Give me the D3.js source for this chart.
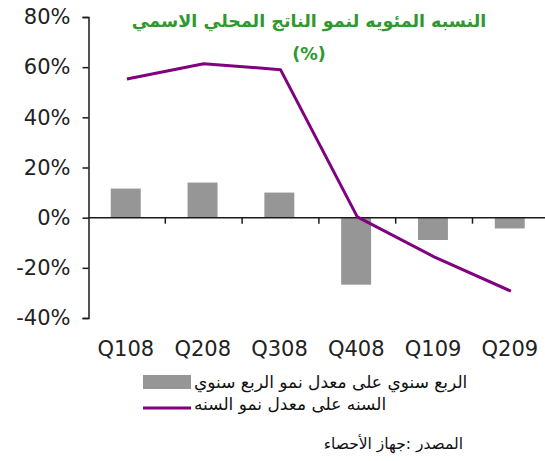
<!DOCTYPE html>
<html>
<head>
<meta charset="utf-8">
<script src="https://cdn.jsdelivr.net/npm/d3@7"></script>
<style>
  body { margin: 0; background: #fff; }
  svg { display: block; }
</style>
</head>
<body>
<svg id="chart"></svg>
<script>
// data
const quarters = ['Q108', 'Q208', 'Q308', 'Q408', 'Q109', 'Q209'];
const qoqGrowth = [11.6, 14.0, 10.0, -26.7, -8.9, -4.3];   // bars
const yoyGrowth = [55.3, 61.4, 59.0, 0.3, -15.6, -29.3];   // line
const yTicks = [-40, -20, 0, 20, 40, 60, 80];

const titleLines = ['النسبه المئويه لنمو الناتج المحلي الاسمي', '(%)'];
const legendLabels = ['الربع سنوي على معدل نمو الربع سنوي', 'السنه على معدل نمو السنه'];
const sourceText = 'المصدر :جهاز الأحصاء';

const width = 545, height = 461;
const svg = d3.select('#chart').attr('width', width).attr('height', height);

const axisLeftX = 88.5;
const step = 76.8;
const x = d3.scaleBand().domain(quarters).range([axisLeftX, axisLeftX + step * quarters.length]).padding(0);
const y = d3.scaleLinear().domain([-40, 80]).range([318, 17]);

const barColor = '#969696';
const lineColor = '#800080';
const axisColor = '#1a1a1a';

// bars
svg.append('g')
  .selectAll('rect')
  .data(quarters.map((q, i) => ({ q, v: qoqGrowth[i] })))
  .join('rect')
  .attr('x', d => x(d.q) + step * 0.29)
  .attr('width', step * 0.39)
  .attr('y', d => y(Math.max(0, d.v)))
  .attr('height', d => Math.abs(y(d.v) - y(0)))
  .attr('fill', barColor);

// y axis
const yAxis = d3.axisLeft(y)
  .tickValues(yTicks)
  .tickSize(6)
  .tickPadding(12)
  .tickFormat(d => d + '%');
const yG = svg.append('g').attr('transform', `translate(${axisLeftX},0)`).call(yAxis);
yG.selectAll('path, line').attr('stroke', axisColor).attr('stroke-width', 1.5);
yG.selectAll('text')
  .attr('font-family', 'DejaVu Sans, Verdana, sans-serif')
  .attr('font-size', 21)
  .attr('fill', '#222');

// x axis at 0%
svg.append('line')
  .attr('x1', axisLeftX).attr('x2', width)
  .attr('y1', y(0)).attr('y2', y(0))
  .attr('stroke', axisColor).attr('stroke-width', 1.5);
svg.append('g')
  .selectAll('line')
  .data(quarters.slice(1))
  .join('line')
  .attr('x1', d => x(d)).attr('x2', d => x(d))
  .attr('y1', y(0)).attr('y2', y(0) + 6)
  .attr('stroke', axisColor).attr('stroke-width', 1.5);

svg.append('g')
  .selectAll('text')
  .data(quarters)
  .join('text')
  .attr('x', d => x(d) + x.bandwidth() / 2 - 1)
  .attr('y', 356)
  .attr('text-anchor', 'middle')
  .attr('font-family', 'DejaVu Sans, Verdana, sans-serif')
  .attr('font-size', 21)
  .attr('fill', '#222')
  .text(d => d);

// line
const line = d3.line()
  .x((d, i) => x(quarters[i]) + x.bandwidth() / 2)
  .y(d => y(d));
svg.append('path')
  .datum(yoyGrowth)
  .attr('d', line)
  .attr('fill', 'none')
  .attr('stroke', lineColor)
  .attr('stroke-width', 3)
  .attr('stroke-linejoin', 'round');

// title
svg.append('g')
  .selectAll('text')
  .data(titleLines)
  .join('text')
  .attr('x', 309)
  .attr('y', (d, i) => 27 + i * 33)
  .attr('text-anchor', 'middle')
  .attr('font-family', 'DejaVu Sans, sans-serif')
  .attr('font-weight', 'bold')
  .attr('font-size', 17.5)
  .attr('fill', '#2e9a2e')
  .text(d => d);

// legend
const legend = svg.append('g');
legend.append('rect')
  .attr('x', 143).attr('y', 375)
  .attr('width', 48).attr('height', 14)
  .attr('fill', barColor);
legend.append('line')
  .attr('x1', 143).attr('x2', 191)
  .attr('y1', 408).attr('y2', 408)
  .attr('stroke', lineColor).attr('stroke-width', 3);
legend.selectAll('text')
  .data(legendLabels)
  .join('text')
  .attr('x', 194)
  .attr('y', (d, i) => 388 + i * 22)
  .attr('text-anchor', 'start')
  .attr('font-family', 'DejaVu Sans, sans-serif')
  .attr('font-size', 17)
  .attr('fill', '#111')
  .text(d => d);

// source
svg.append('text')
  .attr('x', 463)
  .attr('y', 449)
  .attr('text-anchor', 'end')
  .attr('font-family', 'DejaVu Sans, sans-serif')
  .attr('font-size', 15.5)
  .attr('fill', '#111')
  .text(sourceText);
</script>
</body>
</html>
